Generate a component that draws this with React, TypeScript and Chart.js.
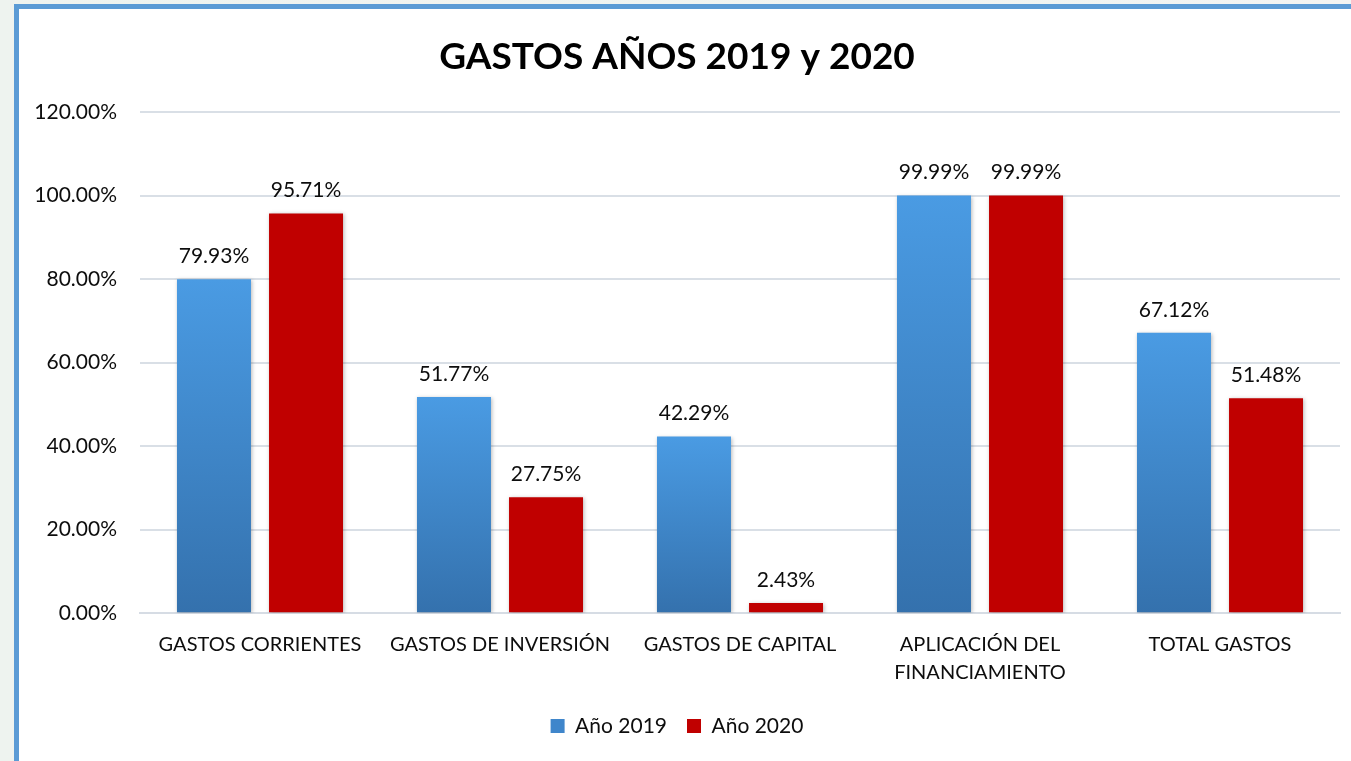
import React, { useEffect, useRef } from "react";
import { Chart, registerables } from "chart.js";

Chart.register(...registerables);

const TITLE = "GASTOS AÑOS 2019 y 2020";
const categories: (string | string[])[] = [
  "GASTOS CORRIENTES",
  "GASTOS DE INVERSIÓN",
  "GASTOS DE CAPITAL",
  ["APLICACIÓN DEL", "FINANCIAMIENTO"],
  "TOTAL GASTOS",
];
const seriesNames = ["Año 2019", "Año 2020"];
const values2019 = [79.93, 51.77, 42.29, 99.99, 67.12];
const values2020 = [95.71, 27.75, 2.43, 99.99, 51.48];
const yMin = 0;
const yMax = 120;
const yStep = 20;

const FONT = "Lato, 'Open Sans', sans-serif";
const BLUE_TOP = "#4a9be3";
const BLUE_BOTTOM = "#3471ad";
const RED = "#c00000";

const fmt = (v: number) => v.toFixed(2) + "%";

const blueGradient = (ctx: any) => {
  const chart = ctx.chart;
  const y = chart.scales && chart.scales.y;
  if (!y || ctx.raw === undefined || !chart.chartArea) return BLUE_TOP;
  const top = y.getPixelForValue(ctx.raw);
  const bottom = y.getPixelForValue(0);
  if (!isFinite(top) || !isFinite(bottom) || top === bottom) return BLUE_TOP;
  const g = chart.ctx.createLinearGradient(0, top, 0, bottom);
  g.addColorStop(0, BLUE_TOP);
  g.addColorStop(1, BLUE_BOTTOM);
  return g;
};

const shadowPlugin = {
  id: "barShadow",
  beforeDatasetsDraw(chart: any) {
    const c = chart.ctx;
    c.save();
    c.shadowColor = "rgba(0,0,0,0.28)";
    c.shadowBlur = 4;
    c.shadowOffsetX = 1;
    c.shadowOffsetY = 1;
  },
  afterDatasetsDraw(chart: any) {
    chart.ctx.restore();
  },
};

const labelPlugin = {
  id: "valueLabels",
  afterDatasetsDraw(chart: any) {
    const c = chart.ctx;
    c.save();
    c.font = `21px ${FONT}`;
    c.fillStyle = "#0d0d0d";
    c.textAlign = "center";
    c.textBaseline = "middle";
    chart.data.datasets.forEach((ds: any, i: number) => {
      const meta = chart.getDatasetMeta(i);
      meta.data.forEach((el: any, j: number) => {
        c.fillText(fmt(ds.data[j]), el.x, el.y - 23);
      });
    });
    c.restore();
  },
};

export default function App() {
  const ref = useRef<HTMLCanvasElement>(null);
  useEffect(() => {
    if (!ref.current) return;
    const chart = new Chart(ref.current, {
      type: "bar",
      data: {
        labels: categories,
        datasets: [
          {
            label: seriesNames[0],
            data: values2019,
            backgroundColor: blueGradient,
            categoryPercentage: 0.767,
            barPercentage: 0.804,
          },
          {
            label: seriesNames[1],
            data: values2020,
            backgroundColor: RED,
            categoryPercentage: 0.767,
            barPercentage: 0.804,
          },
        ],
      },
      options: {
        animation: false,
        responsive: false,
        maintainAspectRatio: false,
        layout: { padding: { left: 14, right: 11, top: 0, bottom: 14.4 } },
        scales: {
          x: {
            grid: { display: false, drawTicks: false },
            border: { display: true, color: "#d6dce4", width: 2 },
            ticks: {
              color: "#0d0d0d",
              font: { family: FONT, size: 20, lineHeight: 28 / 20 },
              padding: 17,
              maxRotation: 0,
              autoSkip: false,
            },
            afterFit: (s: any) => {
              s.height = 82.4;
            },
          },
          y: {
            min: yMin,
            max: yMax,
            grid: { color: "#d9dfe6", lineWidth: 2, drawTicks: false },
            border: { display: false },
            ticks: {
              stepSize: yStep,
              color: "#0d0d0d",
              font: { family: FONT, size: 21 },
              padding: 23,
              callback: (v: any) => fmt(Number(v)),
            },
            afterFit: (s: any) => {
              s.width = 126;
            },
          },
        },
        plugins: {
          title: {
            display: true,
            text: TITLE,
            color: "#000",
            font: { family: FONT, size: 37, weight: "bold", lineHeight: 1.2 },
            padding: { top: 34.8, bottom: 32.8 },
          },
          legend: {
            position: "bottom",
            labels: {
              color: "#0d0d0d",
              font: { family: FONT, size: 21, lineHeight: 1.2 },
              boxWidth: 14,
              boxHeight: 14,
              padding: 20,
              generateLabels: (ch: any) =>
                ch.data.datasets.map((ds: any, i: number) => ({
                  text: ds.label,
                  fillStyle: i === 0 ? "#3f86cb" : RED,
                  strokeStyle: "transparent",
                  lineWidth: 0,
                  hidden: false,
                  datasetIndex: i,
                  fontColor: "#0d0d0d",
                })),
            },
          },
          tooltip: { enabled: false },
        },
      },
      plugins: [shadowPlugin, labelPlugin],
    });
    return () => chart.destroy();
  }, []);

  return (
    <div
      style={{
        position: "fixed",
        left: 0,
        top: 0,
        width: 1351,
        height: 761,
        overflow: "hidden",
        background: "linear-gradient(90deg, #eef3ef 0%, #f2f4f2 100%)",
      }}
    >
      <div
        style={{
          position: "absolute",
          left: 14,
          top: 4,
          width: 1400,
          height: 800,
          background: "#ffffff",
          borderLeft: "5px solid #5b9bd5",
          borderTop: "5px solid #5b9bd5",
          boxSizing: "border-box",
        }}
      />
      <canvas
        ref={ref}
        width={1351}
        height={761}
        style={{ position: "absolute", left: 0, top: 0, width: 1351, height: 761 }}
      />
    </div>
  );
}
